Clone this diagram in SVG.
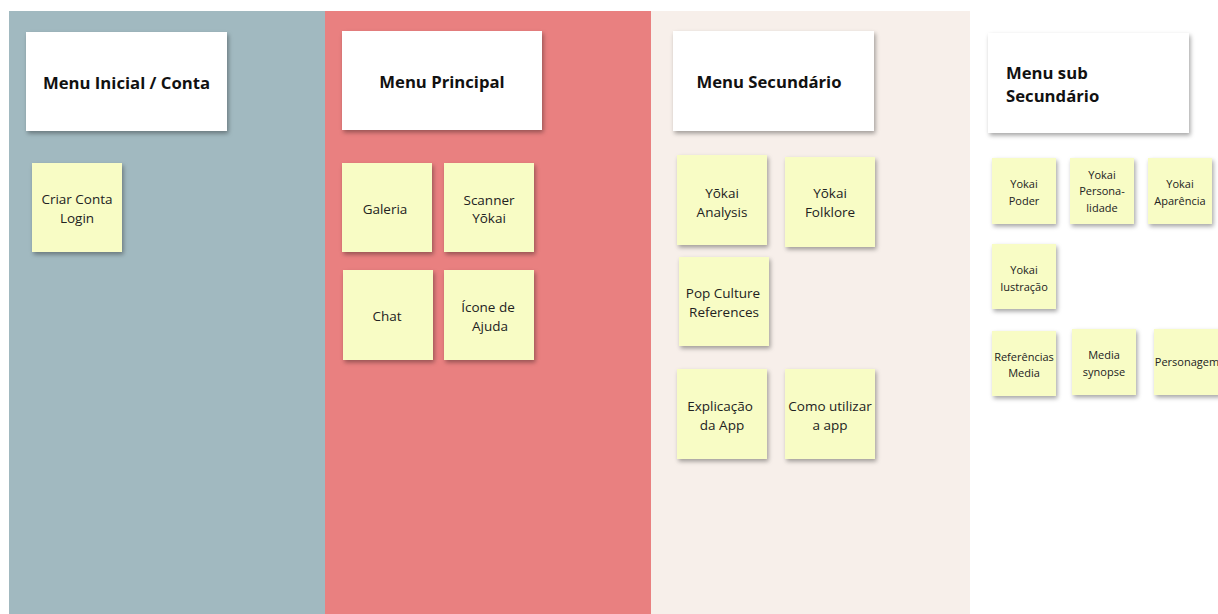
<svg xmlns="http://www.w3.org/2000/svg" width="1218" height="614" viewBox="0 0 1218 614">
<style>
.hdr{fill:#ffffff;filter:url(#sh)}
.stk{fill:#f8fcc5;filter:url(#sh)}
.ht{font-family:"Open Sans","Noto Sans",sans-serif;font-weight:bold;font-size:16.7px;fill:#111}
.t{font-family:"Open Sans","Noto Sans",sans-serif;font-size:13.5px;fill:#222;text-anchor:middle}
.s{font-family:"Open Sans","Noto Sans",sans-serif;font-size:11px;fill:#222;text-anchor:middle}
</style>
<defs>
<filter id="sh" x="-20%" y="-20%" width="150%" height="150%">
<feDropShadow dx="1.5" dy="2.5" stdDeviation="2" flood-color="#000" flood-opacity="0.35"/>
</filter>
</defs>
<rect x="0" y="0" width="1218" height="614" fill="#ffffff"/>
<g id="lanes">
<rect x="9" y="11" width="316" height="603" fill="#a1b9c0"/>
<rect x="325" y="11" width="326" height="603" fill="#e98080"/>
<rect x="651" y="11" width="319" height="603" fill="#f7efea"/>
</g>
<g id="connectors"></g>
<g id="h1"><rect class="hdr" x="26" y="32" width="201" height="99"/><text class="ht" x="126.5" y="89" text-anchor="middle">Menu Inicial / Conta</text></g>
<g id="h2"><rect class="hdr" x="342" y="31" width="200" height="99"/><text class="ht" x="442" y="88" text-anchor="middle">Menu Principal</text></g>
<g id="h3"><rect class="hdr" x="673" y="31" width="201" height="100"/><text class="ht" x="769" y="88" text-anchor="middle">Menu Secundário</text></g>
<g id="h4"><rect class="hdr" x="988" y="33" width="201" height="100"/><text class="ht" x="1006" y="79">Menu sub</text><text class="ht" x="1006" y="102">Secundário</text></g>

<g id="n-criar"><rect class="stk" x="32" y="163" width="90" height="89"/><text class="t" x="77" y="204">Criar Conta</text><text class="t" x="77" y="223">Login</text></g>

<g id="n-galeria"><rect class="stk" x="342" y="163" width="90" height="89"/><text class="t" x="385" y="214">Galeria</text></g>
<g id="n-scanner"><rect class="stk" x="444" y="163" width="90" height="89"/><text class="t" x="489" y="205">Scanner</text><text class="t" x="489" y="223">Yōkai</text></g>
<g id="n-chat"><rect class="stk" x="343" y="270" width="90" height="90"/><text class="t" x="387" y="321">Chat</text></g>
<g id="n-icone"><rect class="stk" x="444" y="270" width="90" height="90"/><text class="t" x="488" y="312">Ícone de</text><text class="t" x="490" y="331">Ajuda</text></g>

<g id="n-analysis"><rect class="stk" x="677" y="155" width="90" height="90"/><text class="t" x="722" y="198">Yōkai</text><text class="t" x="722" y="217">Analysis</text></g>
<g id="n-folklore"><rect class="stk" x="785" y="157" width="90" height="90"/><text class="t" x="830" y="198">Yōkai</text><text class="t" x="830" y="217">Folklore</text></g>
<g id="n-pop"><rect class="stk" x="679" y="257" width="90" height="89"/><text class="t" x="723" y="298">Pop Culture</text><text class="t" x="724" y="317">References</text></g>
<g id="n-explic"><rect class="stk" x="677" y="369" width="90" height="90"/><text class="t" x="720" y="411">Explicação</text><text class="t" x="722" y="430">da App</text></g>
<g id="n-como"><rect class="stk" x="785" y="369" width="90" height="90"/><text class="t" x="830" y="411">Como utilizar</text><text class="t" x="830" y="430">a app</text></g>

<g id="n-poder"><rect class="stk" x="992" y="158" width="64" height="66"/><text class="s" x="1024" y="188">Yokai</text><text class="s" x="1024" y="205">Poder</text></g>
<g id="n-persona"><rect class="stk" x="1070" y="158" width="64" height="66"/><text class="s" x="1102" y="179">Yokai</text><text class="s" x="1102" y="195">Persona-</text><text class="s" x="1102" y="212">lidade</text></g>
<g id="n-aparencia"><rect class="stk" x="1148" y="158" width="64" height="66"/><text class="s" x="1180" y="188">Yokai</text><text class="s" x="1180" y="205">Aparência</text></g>
<g id="n-ilustracao"><rect class="stk" x="992" y="244" width="64" height="65"/><text class="s" x="1024" y="274">Yokai</text><text class="s" x="1024" y="291">Iustração</text></g>
<g id="n-refs"><rect class="stk" x="992" y="331" width="64" height="65"/><text class="s" x="1024" y="361">Referências</text><text class="s" x="1024" y="377">Media</text></g>
<g id="n-synopse"><rect class="stk" x="1072" y="329" width="64" height="66"/><text class="s" x="1104" y="359">Media</text><text class="s" x="1104" y="376">synopse</text></g>
<g id="n-personagem"><rect class="stk" x="1154" y="329" width="66" height="66"/><text class="s" x="1187" y="366">Personagem</text></g>
</svg>
